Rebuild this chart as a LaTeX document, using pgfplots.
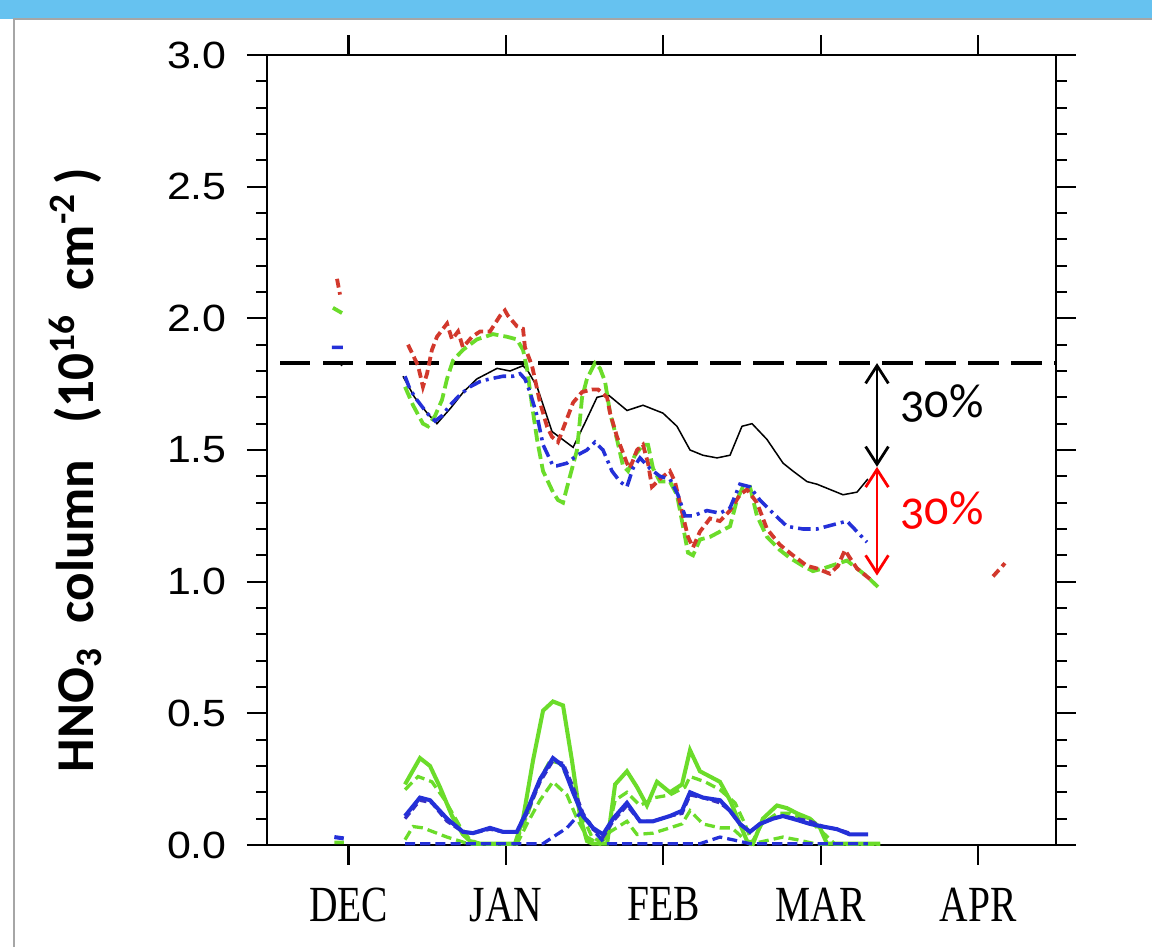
\documentclass[border=0pt]{standalone}
\usepackage{fontspec}
\usepackage{pgfplots}
\pgfplotsset{compat=1.18}
\usetikzlibrary{arrows.meta}
\setmainfont{Liberation Sans}
\newfontfamily\tickfont[FakeStretch=1.13]{Liberation Sans}
\newfontfamily\labfont{Carlito}
\newfontfamily\pctfont[Numbers=OldStyle]{Carlito}
\newfontfamily\monfont[FakeStretch=0.78]{Liberation Serif}
\definecolor{cred}{HTML}{D2382C}
\definecolor{cgreen}{HTML}{6BDC2A}
\definecolor{cblue}{HTML}{2430D8}
\definecolor{cpurp}{HTML}{3A2FC0}
\definecolor{band}{HTML}{66C2F0}

\begin{document}
\begin{tikzpicture}
% 1 px of the 1152x947 frame = 0.013889cm
\path[use as bounding box] (0,0) rectangle (16cm,13.153cm);
\fill[white] (0,0) rectangle (16cm,13.153cm);
\fill[band] (0,12.889cm) rectangle (16cm,13.153cm);
\draw[gray!70, line width=1pt] (0.194cm,0) -- (0.194cm,12.889cm) -- (16cm,12.889cm);

\begin{axis}[
  at={(3.708cm,1.417cm)}, anchor=south west,
  scale only axis, width=10.958cm, height=10.972cm,
  xmin=-0.518, xmax=4.495, ymin=0, ymax=3,
  xtick={0,1,2,3,4}, xticklabels={DEC,JAN,FEB,MAR,APR},
  ytick={0,0.5,1,1.5,2,2.5,3}, minor y tick num=4,
  tick align=outside, xtick pos=both, ytick pos=both,
  major tick length=7.9pt, minor tick length=4.2pt,
  axis line style={line width=0.8pt},
  every tick/.style={black, line width=0.8pt},
  yticklabel style={font=\tickfont\fontsize{15}{18}\selectfont, xshift=-4.5pt,
    /pgf/number format/.cd, fixed, fixed zerofill, precision=1, assume math mode=true},
  xticklabel style={font=\monfont\fontsize{20}{22}\selectfont, yshift=-5.5pt},
  unbounded coords=jump,
  clip=false,
]
% reference level
\addplot[black, line width=1.6pt, dash pattern=on 12pt off 5pt] coordinates {(-0.435,1.83) (4.495,1.83)};

% black thin solid
\addplot[black, line width=0.6pt] coordinates {
(-0.06,1.83)(-0.04,1.82) (nan,nan)
(0.346,1.78)(0.42,1.70)(0.50,1.64)(0.562,1.60)(0.65,1.66)(0.73,1.72)(0.816,1.77)(0.944,1.81)(1.026,1.80)(1.109,1.82)(1.14,1.80)(1.198,1.74)(1.293,1.57)(1.427,1.51)(1.50,1.60)(1.579,1.70)(1.649,1.71)(1.770,1.65)(1.871,1.67)(1.998,1.64)(2.087,1.59)(2.170,1.50)(2.252,1.48)(2.341,1.47)(2.424,1.48)(2.500,1.59)(2.564,1.60)(2.659,1.54)(2.761,1.45)(2.824,1.42)(2.913,1.38)(2.977,1.37)(3.142,1.33)(3.231,1.34)(3.300,1.39)
};

% green dashed (upper group)
\addplot[cgreen, line width=1.5pt, dash pattern=on 5pt off 2pt] coordinates {
(-0.099,2.04)(-0.041,2.02) (nan,nan)
(0.359,1.74)(0.410,1.67)(0.473,1.60)(0.505,1.59)(0.550,1.63)(0.594,1.69)(0.626,1.77)(0.664,1.84)(0.727,1.88)(0.816,1.92)(0.918,1.94)(1.007,1.93)(1.070,1.92)(1.109,1.88)(1.134,1.81)(1.166,1.67)(1.198,1.54)(1.236,1.42)(1.299,1.34)(1.331,1.31)(1.363,1.30)(1.407,1.40)(1.452,1.50)(1.484,1.70)(1.515,1.77)(1.566,1.83)(1.598,1.81)(1.630,1.76)(1.662,1.64)(1.706,1.54)(1.744,1.44)(1.776,1.42)(1.820,1.48)(1.871,1.52)(1.903,1.52)(1.935,1.43)(1.979,1.38)(2.042,1.38)(2.087,1.33)(2.119,1.23)(2.157,1.11)(2.189,1.10)(2.233,1.16)(2.297,1.17)(2.360,1.19)(2.424,1.21)(2.468,1.31)(2.506,1.36)(2.551,1.36)(2.595,1.25)(2.659,1.17)(2.741,1.12)(2.805,1.09)(2.887,1.06)(2.951,1.04)(3.015,1.05)(3.167,1.08)(3.231,1.05)(3.294,1.02)(3.364,0.98)
};

% red dashed
\addplot[cred, line width=1.5pt, dash pattern=on 3.5pt off 1.8pt] coordinates {
(-0.073,2.15)(-0.054,2.09) (nan,nan)
(0.378,1.90)(0.442,1.82)(0.473,1.74)(0.499,1.79)(0.530,1.88)(0.562,1.93)(0.626,1.98)(0.658,1.92)(0.696,1.95)(0.727,1.89)(0.785,1.93)(0.836,1.95)(0.899,1.95)(0.963,2.01)(0.994,2.03)(1.013,2.01)(1.070,1.97)(1.109,1.96)(1.121,1.89)(1.166,1.82)(1.217,1.68)(1.261,1.59)(1.293,1.55)(1.331,1.53)(1.363,1.58)(1.427,1.68)(1.484,1.72)(1.547,1.73)(1.585,1.73)(1.643,1.70)(1.662,1.64)(1.706,1.55)(1.769,1.45)(1.788,1.43)(1.833,1.50)(1.871,1.52)(1.903,1.45)(1.928,1.36)(1.979,1.39)(2.042,1.42)(2.074,1.38)(2.125,1.25)(2.157,1.17)(2.189,1.13)(2.233,1.19)(2.297,1.24)(2.360,1.23)(2.424,1.27)(2.487,1.33)(2.532,1.35)(2.595,1.30)(2.659,1.20)(2.741,1.14)(2.824,1.10)(2.913,1.06)(2.977,1.05)(3.059,1.03)(3.110,1.06)(3.154,1.12)(3.186,1.09)(3.231,1.05)(3.313,1.01)
(nan,nan) (4.095,1.02)(4.171,1.07)
};

% blue dash-dot
\addplot[cblue, line width=1.4pt, dash pattern=on 5pt off 2pt on 1.2pt off 2pt] coordinates {
(-0.105,1.89)(-0.035,1.89) (nan,nan)
(0.359,1.78)(0.391,1.73)(0.435,1.69)(0.499,1.64)(0.550,1.61)(0.594,1.63)(0.645,1.67)(0.709,1.71)(0.772,1.74)(0.836,1.76)(0.899,1.77)(0.981,1.78)(1.045,1.78)(1.090,1.79)(1.121,1.77)(1.153,1.72)(1.198,1.63)(1.236,1.52)(1.299,1.44)(1.325,1.44)(1.388,1.45)(1.452,1.48)(1.515,1.50)(1.566,1.53)(1.617,1.50)(1.674,1.42)(1.725,1.38)(1.769,1.36)(1.807,1.43)(1.852,1.47)(1.915,1.43)(1.979,1.40)(2.042,1.39)(2.093,1.33)(2.138,1.25)(2.189,1.25)(2.278,1.27)(2.360,1.26)(2.424,1.28)(2.487,1.37)(2.551,1.36)(2.614,1.31)(2.697,1.26)(2.786,1.21)(2.887,1.20)(2.977,1.20)(3.040,1.21)(3.167,1.23)(3.231,1.19)(3.294,1.15)
};

% lower group: green solid
\addplot[cgreen, line width=1.6pt] coordinates {
(0.359,0.23)(0.454,0.33)(0.518,0.30)(0.581,0.22)(0.658,0.11)(0.727,0.04)(0.772,0.015)(0.836,0.005)(1.058,0.005)(1.109,0.10)(1.172,0.32)(1.236,0.51)(1.299,0.545)(1.363,0.53)(1.420,0.32)(1.471,0.11)(1.515,0.015)(1.55,0.005)(1.643,0.005)(1.694,0.23)(1.769,0.28)(1.833,0.22)(1.896,0.15)(1.960,0.24)(2.042,0.20)(2.119,0.23)(2.170,0.36)(2.233,0.28)(2.360,0.24)(2.424,0.17)(2.487,0.08)(2.532,0.015)(2.570,0.005)(2.633,0.10)(2.722,0.15)(2.786,0.14)(2.850,0.12)(2.932,0.10)(2.996,0.065)(3.040,0.005)(3.377,0.005)
};
% green dashed upper
\addplot[cgreen, line width=1.3pt, dash pattern=on 4pt off 2pt] coordinates {
(0.359,0.21)(0.442,0.26)(0.530,0.24)(0.613,0.17)(0.709,0.07)(0.772,0.02)(0.836,0.003)(1.058,0.003)(1.140,0.12)(1.217,0.25)(1.280,0.32)(1.344,0.31)(1.407,0.24)(1.471,0.13)(1.547,0.03)(1.630,0.003)(1.694,0.17)(1.769,0.20)(1.852,0.15)(1.947,0.18)(2.042,0.19)(2.138,0.22)(2.170,0.26)(2.265,0.24)(2.360,0.21)(2.456,0.16)(2.519,0.08)(2.564,0.01)(2.627,0.08)(2.722,0.12)(2.805,0.12)(2.932,0.09)(3.027,0.04)(3.091,0.003)(3.377,0.003)
};
% green dashed lower
\addplot[cgreen, line width=1.3pt, dash pattern=on 4pt off 2pt] coordinates {
(-0.09,0.01)(-0.03,0.01) (nan,nan)
(0.359,0.02)(0.410,0.07)(0.473,0.065)(0.626,0.03)(0.772,0.003)(1.070,0.003)(1.134,0.08)(1.217,0.17)(1.299,0.24)(1.388,0.19)(1.452,0.10)(1.515,0.03)(1.598,0.003)(1.662,0.05)(1.769,0.09)(1.833,0.04)(1.935,0.045)(2.042,0.065)(2.119,0.08)(2.170,0.13)(2.252,0.08)(2.360,0.065)(2.436,0.065)(2.500,0.03)(2.551,0.003)(2.760,0.03)(2.850,0.02)(2.977,0.003)(3.377,0.003)
};
% purple dashed
\addplot[cpurp, line width=1.3pt, dash pattern=on 3pt off 1.5pt] coordinates {
(0.359,0.10)(0.454,0.17)(0.530,0.16)(0.626,0.09)(0.727,0.05)(0.791,0.045)(0.899,0.06)(0.981,0.05)(1.070,0.05)(1.134,0.12)(1.217,0.24)(1.299,0.32)(1.363,0.31)(1.427,0.22)(1.490,0.12)(1.553,0.06)(1.617,0.03)(1.681,0.09)(1.769,0.15)(1.852,0.09)(1.935,0.09)(2.042,0.11)(2.119,0.12)(2.170,0.19)(2.252,0.18)(2.360,0.16)(2.424,0.13)(2.487,0.08)(2.551,0.05)(2.614,0.08)(2.697,0.10)(2.760,0.11)(2.850,0.10)(2.932,0.09)(3.015,0.07)(3.104,0.06)(3.186,0.045)
};
% blue solid
\addplot[cblue, line width=1.6pt] coordinates {
(-0.09,0.03)(-0.03,0.025) (nan,nan)
(0.359,0.11)(0.454,0.18)(0.518,0.17)(0.626,0.10)(0.727,0.05)(0.791,0.045)(0.899,0.065)(0.981,0.05)(1.070,0.05)(1.134,0.13)(1.217,0.25)(1.299,0.33)(1.363,0.30)(1.427,0.20)(1.490,0.11)(1.553,0.065)(1.617,0.04)(1.681,0.10)(1.769,0.16)(1.852,0.09)(1.935,0.09)(2.042,0.11)(2.119,0.13)(2.170,0.20)(2.252,0.18)(2.360,0.17)(2.424,0.13)(2.487,0.08)(2.551,0.05)(2.614,0.08)(2.697,0.10)(2.760,0.11)(2.850,0.095)(2.932,0.08)(3.015,0.07)(3.104,0.06)(3.186,0.04)(3.301,0.04)
};
% blue dashed near zero
\addplot[cblue, line width=1.3pt, dash pattern=on 4pt off 2pt] coordinates {
(0.359,0.005)(1.236,0.005)(1.299,0.03)(1.388,0.065)(1.471,0.12)(1.515,0.10)(1.579,0.04)(1.630,0.005)(2.233,0.005)(2.36,0.03)(2.44,0.02)(2.55,0.005)(3.3,0.005)
};

% 30% arrows
\draw[black, line width=1.1pt, {Straight Barb[length=7pt,width=9pt]}-{Straight Barb[length=7pt,width=9pt]}] (axis cs:3.358,1.83) -- (axis cs:3.358,1.436);
\draw[red, line width=1.1pt, {Straight Barb[length=7pt,width=9pt]}-{Straight Barb[length=7pt,width=9pt]}] (axis cs:3.358,1.436) -- (axis cs:3.358,1.023);
\node[anchor=west, inner sep=0pt, font=\pctfont\fontsize{19}{22}\selectfont] at (axis cs:3.504,1.675) {30\%};
\node[anchor=west, inner sep=0pt, font=\pctfont\fontsize{19}{22}\selectfont, text=red] at (axis cs:3.504,1.27) {30\%};
\end{axis}

\node[rotate=90, font=\labfont\bfseries\fontsize{21}{24}\selectfont] at (1.042cm,6.625cm)
  {HNO\textsubscript{3}\ \ column\ \ \ (10\textsuperscript{16}\ \ cm\textsuperscript{-2}\,)};
\end{tikzpicture}
\end{document}
